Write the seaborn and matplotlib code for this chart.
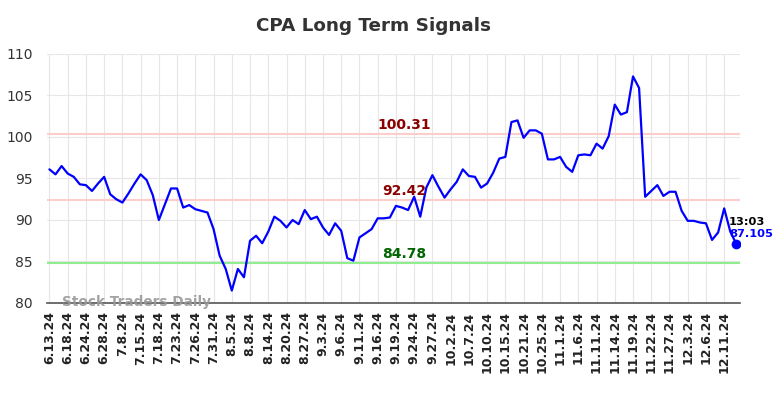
import matplotlib

matplotlib.use('Agg')
import matplotlib.pyplot as plt

import numpy as np
import pandas as pd
import seaborn as sns

# tick labels, one for every third point
tick_labels = ['6.13.24', '6.18.24', '6.24.24', '6.28.24', '7.8.24', '7.15.24', '7.18.24',
               '7.23.24', '7.26.24', '7.31.24', '8.5.24', '8.8.24', '8.14.24', '8.20.24',
               '8.27.24', '9.3.24', '9.6.24', '9.11.24', '9.16.24', '9.19.24', '9.24.24',
               '9.27.24', '10.2.24', '10.7.24', '10.10.24', '10.15.24', '10.21.24',
               '10.25.24', '11.1.24', '11.6.24', '11.11.24', '11.14.24', '11.19.24',
               '11.22.24', '11.27.24', '12.3.24', '12.6.24', '12.11.24']

prices = [96.1, 95.5, 96.5, 95.6, 95.2, 94.3, 94.2, 93.5, 94.4, 95.2,
          93.1, 92.5, 92.1, 93.2, 94.4, 95.5, 94.8, 93.0, 90.0, 91.9,
          93.8, 93.8, 91.5, 91.8, 91.3, 91.1, 90.9, 88.9, 85.7, 84.1,
          81.5, 84.1, 83.1, 87.5, 88.1, 87.2, 88.6, 90.4, 89.9, 89.1,
          90.0, 89.5, 91.2, 90.1, 90.4, 89.1, 88.2, 89.6, 88.7, 85.4,
          85.1, 87.9, 88.4, 88.9, 90.2, 90.2, 90.3, 91.7, 91.5, 91.2,
          92.8, 90.4, 93.9, 95.4, 94.0, 92.7, 93.7, 94.6, 96.1, 95.3,
          95.2, 93.9, 94.4, 95.7, 97.4, 97.6, 101.8, 102.0, 99.9, 100.8,
          100.8, 100.4, 97.3, 97.3, 97.6, 96.4, 95.8, 97.8, 97.9, 97.8,
          99.2, 98.6, 100.1, 103.9, 102.7, 103.0, 107.3, 105.9, 92.8, 93.5,
          94.2, 92.9, 93.4, 93.4, 91.1, 89.9, 89.9, 89.7, 89.6, 87.6,
          88.5, 91.4, 88.6, 87.105]

upper_level = 100.31
middle_level = 92.42
lower_level = 84.78
last_time = '13:03'

df = pd.DataFrame({'idx': np.arange(len(prices)), 'price': prices})

sns.set_style('whitegrid', {'grid.color': '#e6e6e6'})

fig = plt.figure(figsize=(7.84, 3.98), dpi=100)
ax = fig.add_axes([47 / 784, 1 - 303 / 398, (740 - 47) / 784, (303 - 54) / 398])

# support / resistance levels
ax.axhline(upper_level, color='#ffcccc', linewidth=1.5, zorder=1)
ax.axhline(middle_level, color='#ffcccc', linewidth=1.5, zorder=1)
ax.axhline(lower_level, color='#90ee90', linewidth=1.5, zorder=1)

sns.lineplot(data=df, x='idx', y='price', color='#0000ff', linewidth=1.6, ax=ax, zorder=3)

last = df.iloc[-1]
ax.scatter([last['idx']], [last['price']], color='#0000ff', s=36, zorder=4)

mid_x = 58.3
ax.text(mid_x, upper_level + 0.25, '%.2f' % upper_level, color='#8b0000', fontsize=10,
        fontweight='bold', ha='center', va='bottom')
ax.text(mid_x, middle_level + 0.25, '%.2f' % middle_level, color='#8b0000', fontsize=10,
        fontweight='bold', ha='center', va='bottom')
ax.text(mid_x, lower_level + 0.25, '%.2f' % lower_level, color='#006400', fontsize=10,
        fontweight='bold', ha='center', va='bottom')

ax.text(last['idx'] - 1.2, last['price'] + 2.0, last_time, color='black', fontsize=8.2,
        fontweight='bold', ha='left', va='bottom')
ax.text(last['idx'] - 1.2, last['price'] + 0.6, '%.3f' % last['price'], color='#0000ff',
        fontsize=8.2, fontweight='bold', ha='left', va='bottom')

# watermark sits right on the bottom axis line
ax.text(2, 80.1, 'Stock Traders Daily', color='#999999', fontsize=9.8,
        fontweight='bold', ha='left', va='center', alpha=0.9, zorder=5)

ax.set_xlim(-0.4, 113.6)
ax.set_ylim(80, 110)
ax.set_yticks(range(80, 111, 5))
ax.set_xticks(range(0, 3 * len(tick_labels), 3))
ax.set_xticklabels(tick_labels, rotation=90, fontsize=9, fontweight='bold', color='#222222')
ax.tick_params(axis='y', labelsize=10, colors='#333333', length=0, pad=10)
ax.tick_params(axis='x', length=0, pad=6)
ax.set_xlabel('')
ax.set_ylabel('')

for side in ['top', 'right', 'left']:
    ax.spines[side].set_visible(False)
ax.spines['bottom'].set_color('#555555')
ax.spines['bottom'].set_linewidth(1.2)

fig.text(374 / 784, 1 - 26 / 398, 'CPA Long Term Signals', ha='center', va='center',
         fontsize=13.2, fontweight='bold', color='#333333')

fig.savefig('out.png', dpi=100)
